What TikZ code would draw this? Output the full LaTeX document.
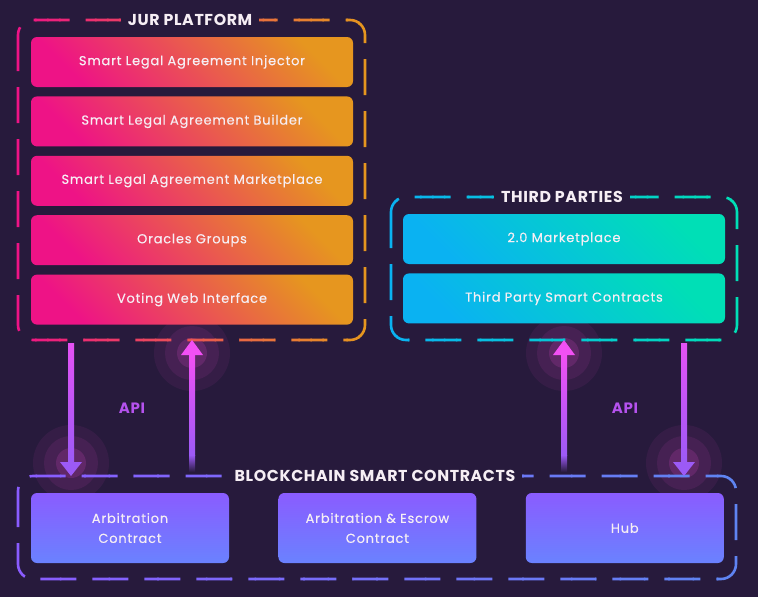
\documentclass[tikz,border=0pt]{standalone}
\usepackage{fontspec}
\usetikzlibrary{positioning, calc}
\newfontfamily\boxfont{Poppins}[LetterSpace=6, FakeBold=0.3]
\newfontfamily\headfont{Poppins}[LetterSpace=4]

\definecolor{bgdark}{HTML}{271A3C}
\definecolor{jurpink}{HTML}{EE1386}
\definecolor{jurorange}{HTML}{E6961F}
\definecolor{tpblue}{HTML}{0AB2F2}
\definecolor{tpgreen}{HTML}{00DFB6}
\definecolor{bcpurple}{HTML}{8A5CFF}
\definecolor{bcblue}{HTML}{6A82FF}
\definecolor{bcframe}{HTML}{5F84F2}
\definecolor{boxtext}{HTML}{F6EEF4}
\definecolor{arrowtop}{HTML}{F250F4}
\definecolor{arrowbot}{HTML}{9C5AF6}
\definecolor{glowpink}{HTML}{E048C8}
\definecolor{apicol}{HTML}{B552EE}

% dashed frame whose colour runs from #5 (left) to #6 (right)
\newcommand{\gradframe}[6]{%
  \pgfmathsetmacro{\stripw}{(#3-#1+12)/30}%
  \foreach \i in {0,...,29}{%
    \pgfmathtruncatemacro{\p}{100-\i*100/29}%
    \begin{scope}
      \clip ({#1-6.8+\stripw*\i},{#2-6}) rectangle ({#1-5.2+\stripw*(\i+1)},{#4+6});
      \draw[frameline, draw=#5!\p!#6] (#1,#2) rectangle (#3,#4);
    \end{scope}
  }%
}

\tikzset{
  frameline/.style={line width=2.6pt, rounded corners=15pt, dash pattern=on 36pt off 16pt},
  basebox/.style={rounded corners=6pt, inner sep=0pt, text=boxtext, font=\boxfont\fontsize{13}{20}\selectfont, align=center},
  jurbox/.style={basebox, minimum width=322pt, minimum height=50pt, top color=jurpink, bottom color=jurorange, shading angle=135},
  tpbox/.style={basebox, minimum width=322pt, minimum height=50pt, top color=tpblue, bottom color=tpgreen, shading angle=135},
  chainbox/.style={basebox, minimum width=198pt, minimum height=70pt, top color=bcpurple, bottom color=bcblue},
  headline/.style={fill=bgdark, inner xsep=7pt, inner ysep=3pt, text=boxtext, font=\headfont\bfseries\fontsize{15.8}{18}\selectfont},
  apilabel/.style={text=apicol, font=\headfont\bfseries\fontsize{15}{17}\selectfont}
}

\begin{document}
\begin{tikzpicture}[x=1pt, y=-1pt]
  \fill[bgdark] (0,0) rectangle (758,597);
  \useasboundingbox (0,0) rectangle (758,597);

  % arrow ends
  \coordinate (jurout) at (71,343);  \coordinate (chainin) at (71,476);
  \coordinate (jurin) at (192,340);  \coordinate (chainout) at (192,472);
  \coordinate (tpin) at (564,340);   \coordinate (hubout) at (564,472);
  \coordinate (tpout) at (684,343);  \coordinate (hubin) at (684,476);

  % glows
  \foreach \g in {jurin, tpin}
    \foreach \r/\o in {38/0.08, 27/0.10, 15/0.18}
      \fill[glowpink, opacity=\o] ($(\g)+(0,13)$) circle (\r);
  \foreach \g in {chainin, hubin}
    \foreach \r/\o in {38/0.08, 27/0.10, 15/0.18}
      \fill[glowpink, opacity=\o] ($(\g)+(0,-13)$) circle (\r);

  % frames
  \gradframe{18}{20}{365}{340}{jurpink}{jurorange}
  \gradframe{391}{197}{737}{340}{tpblue}{tpgreen}
  \gradframe{18}{476}{736}{579}{bcpurple}{bcframe}

  \node[headline] (jurhead) at (190,20) {JUR PLATFORM};
  \node[headline] (tphead) at (562,197) {THIRD PARTIES};
  \node[headline] (chainhead) at (375,476) {BLOCKCHAIN SMART CONTRACTS};

  % JUR platform
  \node[jurbox] (injector) at (192,62) {Smart Legal Agreement Injector};
  \node[jurbox, below=9pt of injector] (builder) {Smart Legal Agreement Builder};
  \node[jurbox, below=9pt of builder] (market) {Smart Legal Agreement Marketplace};
  \node[jurbox, below=9pt of market] (oracles) {Oracles Groups};
  \node[jurbox, below=9pt of oracles] (voting) {Voting Web Interface};

  % third parties
  \node[tpbox] (newmarket) at (564,239) {2.0 Marketplace};
  \node[tpbox, below=9pt of newmarket] (tpcontracts) {Third Party Smart Contracts};

  % blockchain
  \node[chainbox] (arbitration) at (130,528) {Arbitration\\Contract};
  \node[chainbox, right=49pt of arbitration] (escrow) {Arbitration \& Escrow\\Contract};
  \node[chainbox, right=49pt of escrow] (hub) {Hub};

  % API arrows
  \foreach \a/\b in {jurout/chainin, tpout/hubin}{
    \shade[top color=arrowtop!85!arrowbot, bottom color=arrowbot] ($(\a)+(-3,0)$) rectangle ($(\b)+(3,-14)$);
    \fill[arrowbot] ($(\b)+(-11,-14)$) -- ($(\b)+(11,-14)$) -- (\b) -- cycle;
  }
  \foreach \a/\b in {jurin/chainout, tpin/hubout}{
    \shade[top color=arrowtop, bottom color=arrowbot] ($(\a)+(-3,15)$) rectangle ($(\b)+(3,-17)$);
    \shade[top color=arrowbot, bottom color=bgdark] ($(\b)+(-3,-17)$) rectangle ($(\b)+(3,0)$);
    \fill[arrowtop] (\a) -- ($(\a)+(-11,15)$) -- ($(\a)+(11,15)$) -- cycle;
  }
  \node[apilabel] (apileft) at (132,408) {API};
  \node[apilabel] (apiright) at (625,408) {API};
\end{tikzpicture}
\end{document}
